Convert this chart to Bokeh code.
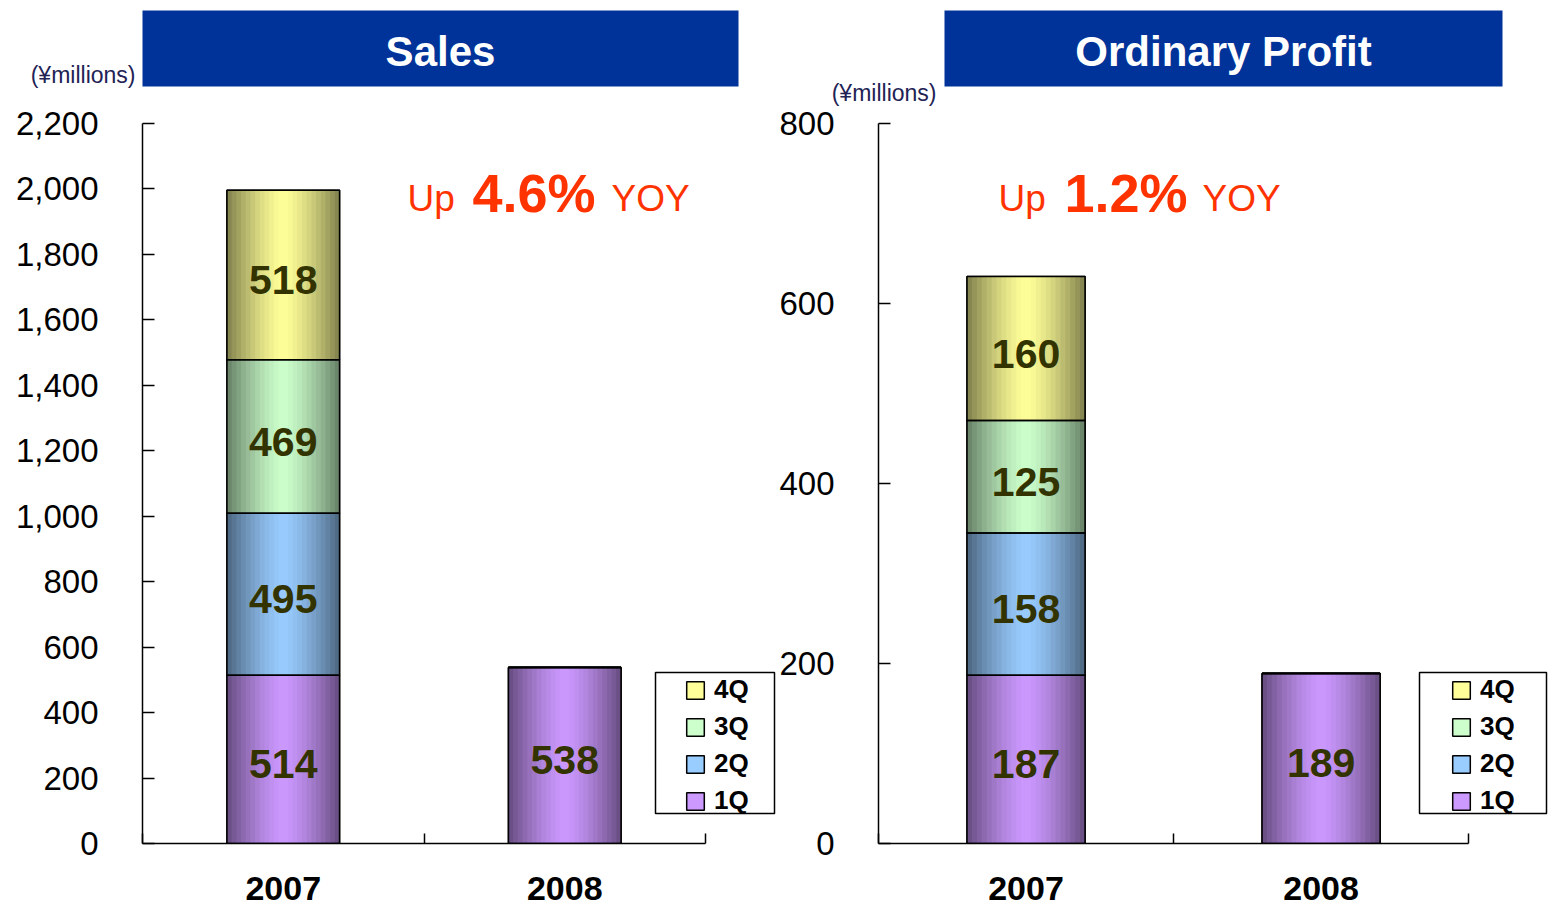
from bokeh.plotting import figure
from bokeh.layouts import row, column
from bokeh.models import (ColumnDataSource, Range1d, FixedTicker, NumeralTickFormatter,
                          Legend, LegendItem, Label, BoxAnnotation, GlobalInlineStyleSheet)
from bokeh.core.properties import value
from bokeh.embed import file_html
from bokeh.resources import INLINE

# ---------------- data ----------------
years = ["2007", "2008"]
quarters = ["1Q", "2Q", "3Q", "4Q"]

sales_1q = [514, 538]
sales_2q = [495, 0]
sales_3q = [469, 0]
sales_4q = [518, 0]

profit_1q = [187, 189]
profit_2q = [158, 0]
profit_3q = [125, 0]
profit_4q = [160, 0]

sales_ticks = [0, 200, 400, 600, 800, 1000, 1200, 1400, 1600, 1800, 2000, 2200]
profit_ticks = [0, 200, 400, 600, 800]

sales_title = "Sales"
profit_title = "Ordinary Profit"
unit_label = "(¥millions)"
sales_growth = "4.6%"
profit_growth = "1.2%"

quarter_colors = ["#CC99FF", "#99CCFF", "#CCFFCC", "#FFFF99"]

FONT = "Liberation Sans"
HEADER_H = 106
CHART_H = 916 - HEADER_H
BAND_N = 12


def shade(hexc, f):
    r, g, b = int(hexc[1:3], 16), int(hexc[3:5], 16), int(hexc[5:7], 16)
    return "#%02x%02x%02x" % (int(r * f), int(g * f), int(b * f))


def make_header(width, banner, title, title_x, unit_pos):
    h = figure(width=width, height=HEADER_H, x_range=Range1d(0, 1), y_range=Range1d(0, 1),
               output_backend="svg", toolbar_location=None, x_axis_location=None,
               y_axis_location=None, min_border=0)
    h.frame_align = False
    h.outline_line_color = None
    h.xgrid.visible = False
    h.ygrid.visible = False
    h.add_layout(BoxAnnotation(left=banner[0], right=banner[1], top=96, bottom=20,
                               left_units="screen", right_units="screen",
                               top_units="screen", bottom_units="screen",
                               fill_color="#003399", fill_alpha=1, line_color=None))
    h.add_layout(Label(x=title_x, y=55, x_units="screen", y_units="screen", text=title,
                       text_align="center", text_baseline="middle",
                       text_font=FONT, text_font_style="bold", text_font_size="42px",
                       text_color="white"))
    h.add_layout(Label(x=unit_pos[0], y=unit_pos[1], x_units="screen", y_units="screen",
                       text=unit_label, text_align="right", text_baseline="middle",
                       text_font=FONT, text_font_size="23px", text_color="#222255"))
    return h


def make_chart(series, ticks, width, bl, plot_w, up_pos, growth, legend_box, legend_x):
    ymax = ticks[-1]
    frame_w = width - bl
    n = len(years)
    p = figure(width=width, height=CHART_H, x_range=Range1d(0, n * frame_w / plot_w),
               y_range=Range1d(0, ymax), output_backend="svg", toolbar_location=None,
               min_border_left=bl, min_border_right=0, min_border_top=17,
               min_border_bottom=73)
    p.frame_align = False
    p.outline_line_color = None
    p.xgrid.visible = False
    p.ygrid.visible = False

    data = dict(x=[i + 0.5 for i in range(n)])
    for q, vals in zip(quarters, series):
        data[q] = vals
    src = ColumnDataSource(data)
    bw = 0.4

    base = p.vbar_stack(quarters, x="x", width=bw, fill_color=quarter_colors,
                        line_color="black", line_width=1.5, source=src)
    for k in range(BAND_N):
        frac = 1 - k / BAND_N
        t = (BAND_N - k - 0.5) / BAND_N
        f = 1 - 0.5 * t ** 1.4
        p.vbar_stack(quarters, x="x", width=bw * frac,
                     fill_color=[shade(c, f) for c in quarter_colors],
                     line_color=None, source=src)
    p.vbar_stack(quarters, x="x", width=bw, fill_color=None, fill_alpha=0,
                 line_color="black", line_width=1.5, source=src)

    # value labels
    lx, ly, lt = [], [], []
    for i in range(n):
        bottom = 0
        for vals in series:
            v = vals[i]
            if v > 0:
                lx.append(i + 0.5)
                ly.append(bottom + v / 2)
                lt.append(str(v))
            bottom += v
    p.text(x=lx, y=ly, text=lt, text_align="center", text_baseline="middle",
           text_font=value(FONT), text_font_style="bold", text_font_size="41px",
           text_color="#333300", y_offset=5)

    # axes
    ya = p.yaxis[0]
    ya.ticker = FixedTicker(ticks=ticks)
    ya.formatter = NumeralTickFormatter(format="0,0")
    ya.major_tick_in = 12
    ya.major_tick_out = 0
    ya.major_tick_line_width = 1.5
    ya.axis_line_width = 1.5
    ya.major_label_standoff = 44
    ya.major_label_text_font = FONT
    ya.major_label_text_font_size = "33px"
    ya.major_label_text_color = "black"

    xa = p.xaxis[0]
    xa.bounds = (0, n)
    xa.ticker = FixedTicker(ticks=[i + 0.5 for i in range(n)],
                            minor_ticks=list(range(n + 1)))
    xa.major_label_overrides = {i + 0.5: y for i, y in enumerate(years)}
    xa.major_tick_in = 0
    xa.major_tick_out = 0
    xa.major_tick_line_color = None
    xa.minor_tick_in = 10
    xa.minor_tick_out = 0
    xa.minor_tick_line_width = 1.5
    xa.minor_tick_line_color = "black"
    xa.axis_line_width = 1.5
    xa.major_label_standoff = 33
    xa.major_label_text_font = FONT
    xa.major_label_text_font_style = "bold"
    xa.major_label_text_font_size = "34px"
    xa.major_label_text_color = "black"

    # legend frame
    p.add_layout(BoxAnnotation(left=legend_box[0], right=legend_box[1], bottom=30, top=171,
                               left_units="screen", right_units="screen",
                               top_units="screen", bottom_units="screen",
                               fill_color="white", fill_alpha=1, line_color="black",
                               line_alpha=1, line_width=1.5))
    items = [LegendItem(label=q, renderers=[r]) for q, r in zip(quarters, base)][::-1]
    leg = Legend(items=items, location=(legend_x, 27), margin=0, padding=0, spacing=6,
                 glyph_width=22, glyph_height=22, label_height=30,
                 label_standoff=8, label_text_font=FONT, label_text_font_style="bold",
                 label_text_font_size="26px", label_text_color="black",
                 border_line_color=None, background_fill_alpha=0)
    p.add_layout(leg)

    # growth annotation
    p.add_layout(Label(x=up_pos[0], y=645, x_units="screen", y_units="screen", text="Up",
                       text_align="left", text_baseline="middle", text_font=FONT,
                       text_font_size="37px", text_color="#FF3300"))
    p.add_layout(Label(x=up_pos[1], y=651, x_units="screen", y_units="screen", text=growth,
                       text_align="left", text_baseline="middle", text_font=FONT,
                       text_font_style="bold", text_font_size="54px", text_color="#FF3300"))
    p.add_layout(Label(x=up_pos[2], y=645, x_units="screen", y_units="screen", text="YOY",
                       text_align="left", text_baseline="middle", text_font=FONT,
                       text_font_size="37px", text_color="#FF3300"))
    return p


h1 = make_header(776, (142, 738), sales_title, 440, (135, 32))
h2 = make_header(772, (168, 726), profit_title, 447, (160, 14))
c1 = make_chart([sales_1q, sales_2q, sales_3q, sales_4q], sales_ticks, 776, 142, 563,
                (265, 330, 469), sales_growth, (513, 632), 542)
c2 = make_chart([profit_1q, profit_2q, profit_3q, profit_4q], profit_ticks, 772, 101, 591,
                (120, 186, 324), profit_growth, (541, 668), 572)

layout = row(column(h1, c1), column(h2, c2),
             stylesheets=[GlobalInlineStyleSheet(css="html, body { overflow: hidden; }")])

open("out.html", "w").write(file_html(layout, INLINE))
